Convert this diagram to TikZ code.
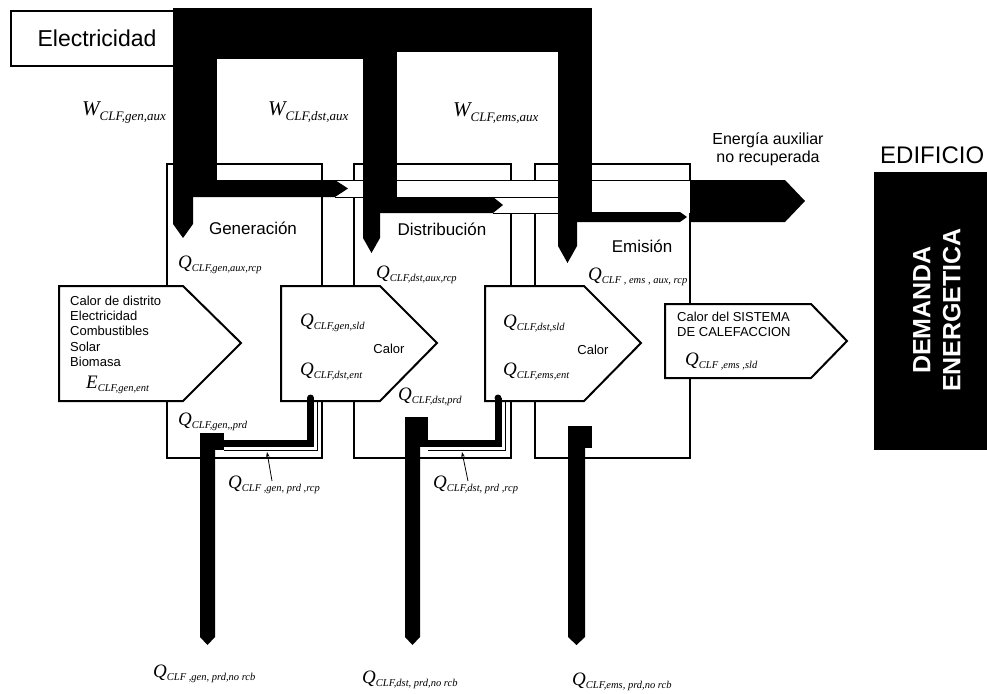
\documentclass[tikz,border=0pt]{standalone}
\usepackage{fontspec}
\setmainfont{Liberation Sans}
\newfontfamily\lserif{Liberation Serif}
\usetikzlibrary{arrows.meta}

% symbol with a lowered italic subscript
\newcommand{\symlab}[5]{{\lserif\itshape\fontsize{#3}{#3}\selectfont #1\fontsize{#4}{#4}\selectfont\raisebox{-#5}{#2}}}
\newcommand{\qlab}[1]{\symlab{Q}{#1}{19}{10.5}{3pt}}
\newcommand{\elab}[1]{\symlab{E}{#1}{19}{10.5}{3pt}}
\newcommand{\wlab}[1]{\symlab{W}{#1}{21}{13}{5pt}}

\begin{document}
\begin{tikzpicture}[x=1pt,y=-1pt,
  unitbox/.style={draw, line width=1.4pt},
  pent/.style={draw, line width=2pt, fill=white, line join=miter},
  thinline/.style={line width=0.8pt},
  lab/.style={anchor=base west, inner sep=0pt},
  txt/.style={inner sep=0pt, font=\fontsize{17}{17}\selectfont},
  small/.style={inner sep=0pt, font=\fontsize{13}{15.3}\selectfont}]

\useasboundingbox (0,0) rectangle (987,693);
\fill[white] (0,0) rectangle (987,693);

% subsystem boxes
\draw[unitbox] (167,164) rectangle (322,458);
\draw[unitbox] (354,164) rectangle (511,458);
\draw[unitbox] (535,164) rectangle (690,458);

% energy carrier arrows
\draw[pent] (59,286) -- (183,286) -- (241,343) -- (183,401) -- (59,401) -- cycle;
\draw[pent] (281,286) -- (380,286) -- (437,343) -- (380,401) -- (281,401) -- cycle;
\draw[pent] (485,286) -- (584,286) -- (641,343) -- (584,401) -- (485,401) -- cycle;
\draw[pent] (665,304) -- (811,304) -- (847,341) -- (811,378) -- (665,378) -- cycle;

% auxiliary energy channel
\fill[white] (217,180.7) rectangle (690,196.5);
\fill[white] (363,197) rectangle (690,212.5);
\draw[thinline] (217,180) -- (690,180);
\draw[thinline] (335,197) -- (363,197);
\draw[thinline] (493,197) -- (558,197);
\draw[thinline] (493,213) -- (558,213);

% electricity supply band
\node[draw, line width=2pt, minimum width=163pt, minimum height=55pt, anchor=north west, inner sep=0pt] (elecbox) at (10,10) {};
\node[inner sep=0pt, font=\fontsize{23}{23}\selectfont] (electxt) at (97,38) {Electricidad};
\fill (173,8) rectangle (592,52);
\fill (173,52) rectangle (363,59);
\fill (173,8) rectangle (217,197);
\fill (173,180) -- (335,180) -- (348,188.5) -- (335,197) -- (173,197) -- cycle;
\fill (173,197) -- (193,197) -- (193,224) -- (183,238) -- (173,224) -- cycle;
\fill (363,52) rectangle (397,197);
\fill (363,197) -- (493,197) -- (503,205) -- (493,213) -- (363,213) -- cycle;
\fill (363,213) -- (380,213) -- (380,238) -- (371.5,253) -- (363,238) -- cycle;
\fill (558,8) rectangle (592,212);
\fill (558,212) -- (680,212) -- (687,217) -- (680,222) -- (558,222) -- cycle;
\fill (558,222) -- (577,222) -- (577,246) -- (567.5,263) -- (558,246) -- cycle;
\fill (690,180) -- (785,180) -- (805,201) -- (785,222) -- (690,222) -- cycle;

% recovered and lost heat pipes
\draw[line width=7pt] (220,443.5) -- (310.5,443.5) -- (310.5,398);
\fill (310.5,398) circle (3.5);
\draw[thinline] (224,450.5) -- (317.5,450.5) -- (317.5,401);
\fill (200,433) rectangle (224,450);
\fill (200,449) -- (215,449) -- (215,637) -- (207.5,645) -- (200,637) -- cycle;

\draw[line width=7pt] (420,443.5) -- (498,443.5) -- (498,398);
\fill (498,398) circle (3.5);
\draw[thinline] (428,450.5) -- (505.5,450.5) -- (505.5,401);
\fill (405,417) rectangle (428,442);
\fill (405,441) -- (420,441) -- (420,637) -- (412.5,645) -- (405,637) -- cycle;

\fill (568,426) rectangle (592,448);
\fill (568,447) -- (585,447) -- (585,637) -- (576.5,645) -- (568,637) -- cycle;

% building demand
\fill (874,172) rectangle (987,450);
\node[inner sep=0pt, anchor=base west, font=\fontsize{24}{24}\selectfont] (edif) at (880,163) {EDIFICIO};
\node[inner sep=0pt, rotate=90, text=white, align=center, font=\bfseries\fontsize{25}{30}\selectfont] (demanda) at (937,310) {DEMANDA\\ENERGETICA};

% stage titles
\node[txt] (gen) at (253,228) {Generación};
\node[txt] (dst) at (442,229) {Distribución};
\node[txt] (ems) at (642,246) {Emisión};
\node[inner sep=0pt, align=center, font=\fontsize{16}{18}\selectfont] (aux) at (768,149) {Energía auxiliar\\no recuperada};

% carrier texts
\node[small, anchor=north west, align=left] (carriers) at (70,295.5) {Calor de distrito\\Electricidad\\Combustibles\\Solar\\Biomasa};
\node[small] (calor1) at (389,349) {Calor};
\node[small] (calor2) at (593,350) {Calor};
\node[small, anchor=north west, align=left] (sistema) at (677,312) {Calor del SISTEMA\\DE CALEFACCION};

% auxiliary energy symbols
\node[lab] (wgen) at (82,115) {\wlab{CLF,gen,aux}};
\node[lab] (wdst) at (268,115) {\wlab{CLF,dst,aux}};
\node[lab] (wems) at (453,116) {\wlab{CLF,ems,aux}};

% heat symbols
\node[lab] (qgenaux) at (178,268) {\qlab{CLF,gen,aux,rcp}};
\node[lab] (qdstaux) at (376,278) {\qlab{CLF,dst,aux,rcp}};
\node[lab] (qemsaux) at (588,280) {\qlab{CLF , ems , aux, rcp}};
\node[lab] (egenent) at (86,388) {\elab{CLF,gen,ent}};
\node[lab] (qgensld) at (300,326) {\qlab{CLF,gen,sld}};
\node[lab] (qdstent) at (300,375) {\qlab{CLF,dst,ent}};
\node[lab] (qdstsld) at (503,327) {\qlab{CLF,dst,sld}};
\node[lab] (qemsent) at (503,375) {\qlab{CLF,ems,ent}};
\node[lab] (qemssld) at (685,365) {\qlab{CLF ,ems ,sld}};
\node[lab] (qgenprd) at (178,425) {\qlab{CLF,gen,,prd}};
\node[lab] (qdstprd) at (398,400) {\qlab{CLF,dst,prd}};
\node[lab] (qgenrcp) at (228,488) {\qlab{CLF ,gen, prd ,rcp}};
\node[lab] (qdstrcp) at (433,488) {\qlab{CLF,dst, prd ,rcp}};
\node[lab] (qgennrc) at (153,677) {\qlab{CLF ,gen, prd,no rcb}};
\node[lab] (qdstnrc) at (362,683) {\qlab{CLF,dst, prd,no rcb}};
\node[lab] (qemsnrc) at (572,685) {\qlab{CLF,ems, prd,no rcb}};

% pointers to the recovered heat pipes
\coordinate (genfoot) at (272,481);
\coordinate (gentip) at (267,452);
\coordinate (dstfoot) at (468,481);
\coordinate (dsttip) at (462,452);
\draw[thinline, -{Stealth[length=5pt,width=3.5pt]}] (genfoot) -- (gentip);
\draw[thinline, -{Stealth[length=5pt,width=3.5pt]}] (dstfoot) -- (dsttip);

\end{tikzpicture}
\end{document}
